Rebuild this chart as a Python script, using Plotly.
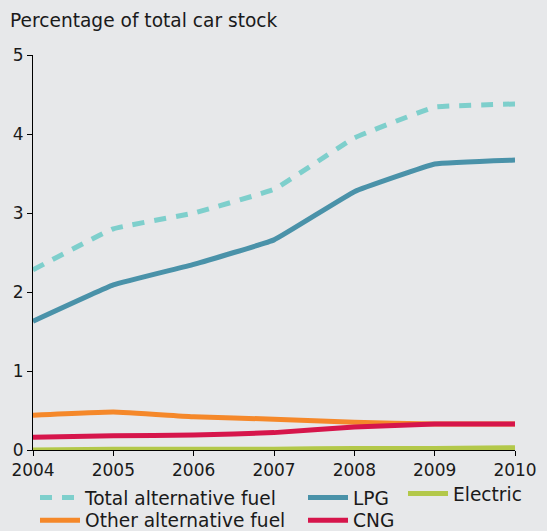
import plotly.graph_objects as go

years = [2004, 2005, 2006, 2007, 2008, 2009, 2010]
total_alt = [2.28, 2.80, 3.00, 3.30, 3.95, 4.34, 4.38]
lpg = [1.63, 2.09, 2.35, 2.66, 3.27, 3.62, 3.67]
other_alt = [0.44, 0.48, 0.42, 0.39, 0.35, 0.33, 0.33]
cng = [0.16, 0.18, 0.19, 0.22, 0.29, 0.33, 0.33]
electric = [0.00, 0.01, 0.01, 0.01, 0.02, 0.02, 0.03]
y_ticks = [0, 1, 2, 3, 4, 5]

BG = "#e7e8ea"
FONT = "DejaVu Sans"
SM = 0.25

fig = go.Figure()
common = dict(mode="lines", line_shape="spline")
fig.add_trace(go.Scatter(x=years, y=electric, name="Electric", legend="legend3",
                         line=dict(color="#b3c84a", width=5, smoothing=SM), **common))
fig.add_trace(go.Scatter(x=years, y=other_alt, name="Other alternative fuel", legend="legend4",
                         line=dict(color="#f5882a", width=5, smoothing=SM), **common))
fig.add_trace(go.Scatter(x=years, y=cng, name="CNG", legend="legend5",
                         line=dict(color="#d6154b", width=5, smoothing=SM), **common))
fig.add_trace(go.Scatter(x=years, y=lpg, name="LPG", legend="legend2",
                         line=dict(color="#4a92a9", width=5, smoothing=SM), **common))
fig.add_trace(go.Scatter(x=years, y=total_alt, name="Total alternative fuel", legend="legend",
                         line=dict(color="#7ecfcc", width=5, dash="12px,10px", smoothing=SM), **common))

leg_common = dict(orientation="v", xanchor="left", yanchor="top", bgcolor="rgba(0,0,0,0)",
                  borderwidth=0, font=dict(family=FONT, size=18.6, color="#1a1a1a"),
                  itemwidth=40, tracegroupgap=0)

fig.update_layout(
    width=547, height=531,
    paper_bgcolor=BG, plot_bgcolor=BG,
    margin=dict(l=33, r=32, t=55, b=81, autoexpand=False),
    font=dict(family=FONT, size=17, color="#1a1a1a"),
    title=dict(text="Percentage of total car stock", x=10/547, xref="container", xanchor="left",
               y=1 - 20/531, yref="container", yanchor="middle",
               font=dict(family=FONT, size=18.6, color="#1a1a1a")),
    xaxis=dict(range=[2004, 2010], tickvals=years, ticktext=[str(y) for y in years],
               showline=True, linecolor="black", linewidth=1, ticks="outside", ticklen=5,
               tickcolor="black", showgrid=False, zeroline=False,
               tickfont=dict(family=FONT, size=17)),
    yaxis=dict(range=[0, 5], tickvals=y_ticks, showline=True, linecolor="black", linewidth=1,
               ticks="outside", ticklen=5, tickcolor="black", showgrid=False, zeroline=False,
               tickfont=dict(family=FONT, size=17)),
    showlegend=True,
    legend=dict(x=2/482, y=-0.073, **leg_common),
    legend2=dict(x=270/482, y=-0.073, **leg_common),
    legend3=dict(x=370/482, y=-0.063, **leg_common),
    legend4=dict(x=2/482, y=-0.1306, **leg_common),
    legend5=dict(x=270/482, y=-0.1306, **leg_common),
)

fig.write_html("out.html", config={"displayModeBar": False},
               post_script="document.body.style.margin='0';document.body.style.background='%s';" % BG)
